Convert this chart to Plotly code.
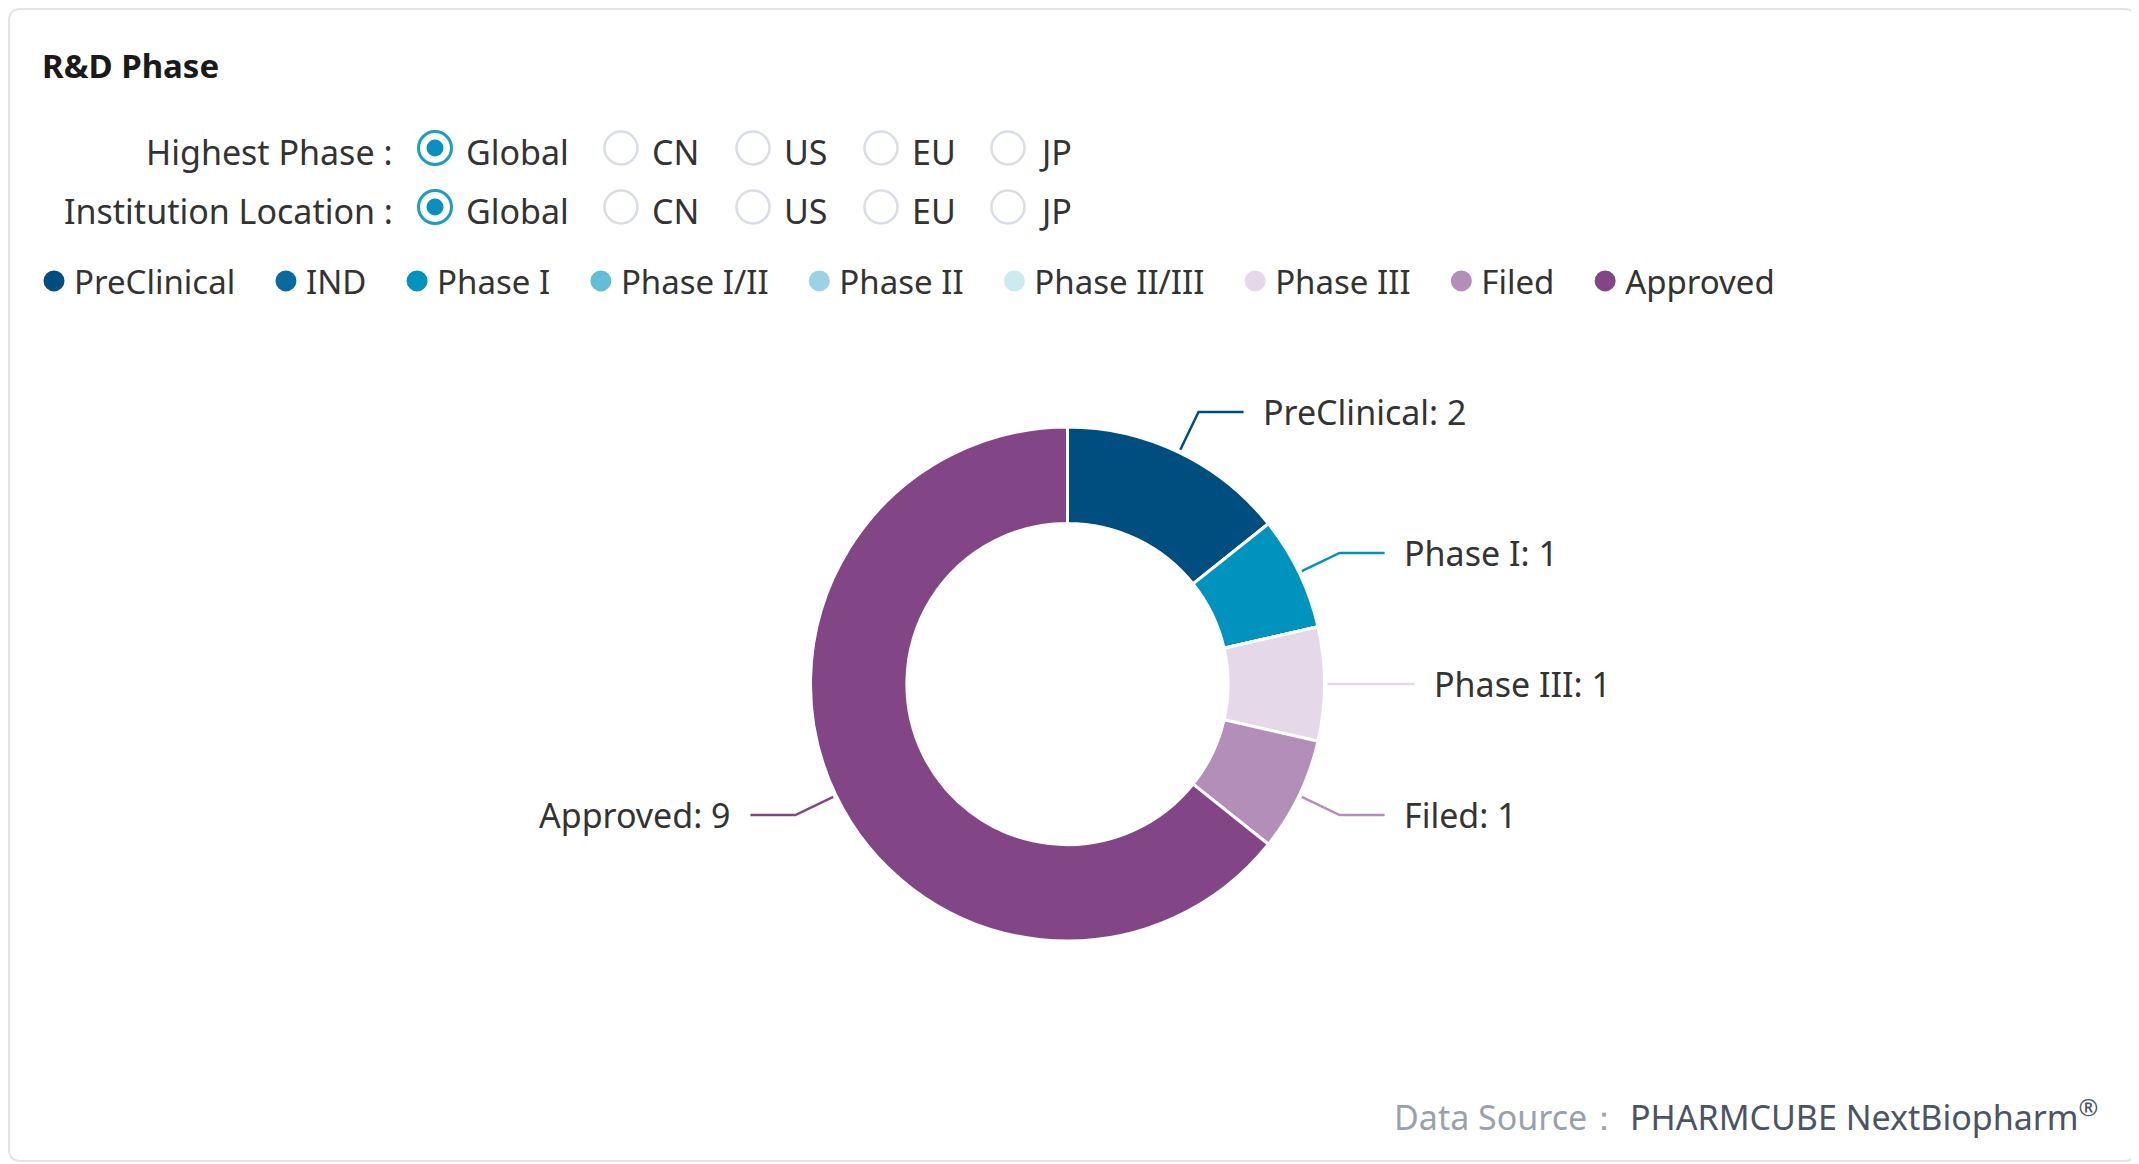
import math
import plotly.graph_objects as go

# page is 2139x1164; the html body keeps an 8px margin, so the figure is
# drawn 8px in from the top-left corner
OFF = 8
W, H = 2139 - OFF, 1164 - OFF

# data
phases = ["PreClinical", "IND", "Phase I", "Phase I/II", "Phase II",
          "Phase II/III", "Phase III", "Filed", "Approved"]
counts = [2, 0, 1, 0, 0, 0, 1, 1, 9]
phase_colors = ["#004d80", "#096a9d", "#0093be", "#64bdd7", "#9ad3e4",
                "#cde9f1", "#e5d9e9", "#b38eb9", "#824586"]

regions = ["Global", "CN", "US", "EU", "JP"]
filter_rows = ["Highest Phase :", "Institution Location :"]
selected = ["Global", "Global"]

title = "R&D Phase"
source_label = "Data Source："
source_name = "PHARMCUBE NextBiopharm"

# layout helpers (page pixel -> paper)
def px(x):
    return (x - OFF) / W

def py(y):
    return 1 - (y - OFF) / H

FONT = "Noto Sans"
TEXT = "#333333"

cx, cy, R = 1067.5, 684, 257
radio_x = [435, 621, 753, 881, 1008]
radio_y = [148, 207]

fig = go.Figure()

fig.add_trace(go.Pie(
    labels=phases,
    values=counts,
    hole=0.625,
    sort=False,
    direction="clockwise",
    rotation=0,
    marker=dict(colors=phase_colors, line=dict(color="white", width=3)),
    textinfo="none",
    showlegend=False,
    hoverinfo="label+value",
    domain=dict(x=[px(cx - R), px(cx + R)], y=[py(cy + R), py(cy - R)]),
))

# legend entries with round markers
for name, col in zip(phases, phase_colors):
    fig.add_trace(go.Scatter(
        x=[None], y=[None], mode="markers", name=name + "\u00a0" * 3,
        marker=dict(size=16, color=col, line=dict(color=col, width=5)),
        showlegend=True, hoverinfo="skip",
    ))

shapes = []
annotations = []

# card
l, t, r_, b, rad = 9, 9, 2136, 1161, 12
pts = [("M", l + rad, t), ("L", r_ - rad, t), ("Q", r_, t, r_, t + rad),
       ("L", r_, b - rad), ("Q", r_, b, r_ - rad, b), ("L", l + rad, b),
       ("Q", l, b, l, b - rad), ("L", l, t + rad), ("Q", l, t, l + rad, t)]
path = ""
for p in pts:
    coords = p[1:]
    segs = []
    for i in range(0, len(coords), 2):
        segs.append(f"{px(coords[i]):.5f},{py(coords[i + 1]):.5f}")
    path += p[0] + " " + " ".join(segs) + " "
shapes.append(dict(type="path", path=path + "Z", xref="paper", yref="paper",
                   line=dict(color="#e1e4eb", width=2), layer="below"))

annotations.append(dict(x=px(40), y=py(65), xref="paper", yref="paper",
                        text="<b>" + title + "</b>", showarrow=False,
                        xanchor="left", yanchor="middle",
                        font=dict(size=33, color="#1a1a1a")))

# radio filters
for lab, sel, yy in zip(filter_rows, selected, radio_y):
    annotations.append(dict(x=px(395), y=py(yy + 4), xref="paper", yref="paper",
                            text=lab, showarrow=False, xanchor="right",
                            yanchor="middle", font=dict(size=34, color=TEXT)))
    for reg, xx in zip(regions, radio_x):
        on = reg == sel
        rr = 16.5
        shapes.append(dict(type="circle", xref="paper", yref="paper",
                           x0=px(xx - rr), x1=px(xx + rr),
                           y0=py(yy + rr), y1=py(yy - rr),
                           fillcolor="white",
                           line=dict(color="#1d9cc6" if on else "#d9dde6",
                                     width=3 if on else 2.5)))
        if on:
            ri = 8.5
            shapes.append(dict(type="circle", xref="paper", yref="paper",
                               x0=px(xx - ri), x1=px(xx + ri),
                               y0=py(yy + ri), y1=py(yy - ri),
                               fillcolor="#0a90bf", line=dict(width=0)))
        annotations.append(dict(x=px(xx + 29), y=py(yy + 4), xref="paper",
                                yref="paper", text=reg, showarrow=False,
                                xanchor="left", yanchor="middle",
                                font=dict(size=34, color=TEXT)))

# slice labels with leader lines
total = sum(counts)
cum = 0
for name, v, col in zip(phases, counts, phase_colors):
    if v == 0:
        continue
    mid = cum + v / 2
    cum += v
    a = math.radians(90 - mid / total * 360)
    dx, dy = math.cos(a), -math.sin(a)
    x0, y0 = cx + 260 * dx, cy + 260 * dy
    x1, y1 = cx + 302 * dx, cy + 302 * dy
    side = 1 if dx >= 0 else -1
    x2 = x1 + side * 45
    shapes.append(dict(type="path", xref="paper", yref="paper",
                       path=f"M {px(x0)},{py(y0)} L {px(x1)},{py(y1)} L {px(x2)},{py(y1)}",
                       line=dict(color=col, width=2.5)))
    annotations.append(dict(x=px(x2 + side * 17), y=py(y1), xref="paper",
                            yref="paper", text=f"{name}: {v}", showarrow=False,
                            xanchor="left" if side > 0 else "right",
                            yanchor="middle", font=dict(size=34, color=TEXT)))

annotations.append(dict(x=px(2100), y=py(1115), xref="paper", yref="paper",
                        text=f"<span style='color:#9aa1ad'>{source_label}</span> "
                             f"{source_name}<sup>®</sup>",
                        showarrow=False, xanchor="right", yanchor="middle",
                        font=dict(size=34, color="#4a5465")))

fig.update_layout(
    width=W, height=H,
    margin=dict(l=0, r=0, t=0, b=0),
    paper_bgcolor="white", plot_bgcolor="white",
    font=dict(family=FONT, color=TEXT),
    xaxis=dict(visible=False), yaxis=dict(visible=False),
    shapes=shapes, annotations=annotations,
    legend=dict(orientation="h", x=px(34), xanchor="left",
                y=py(253), yanchor="top", font=dict(size=33, color=TEXT),
                bgcolor="rgba(0,0,0,0)", itemsizing="trace"),
)

fig.write_html("out.html")
